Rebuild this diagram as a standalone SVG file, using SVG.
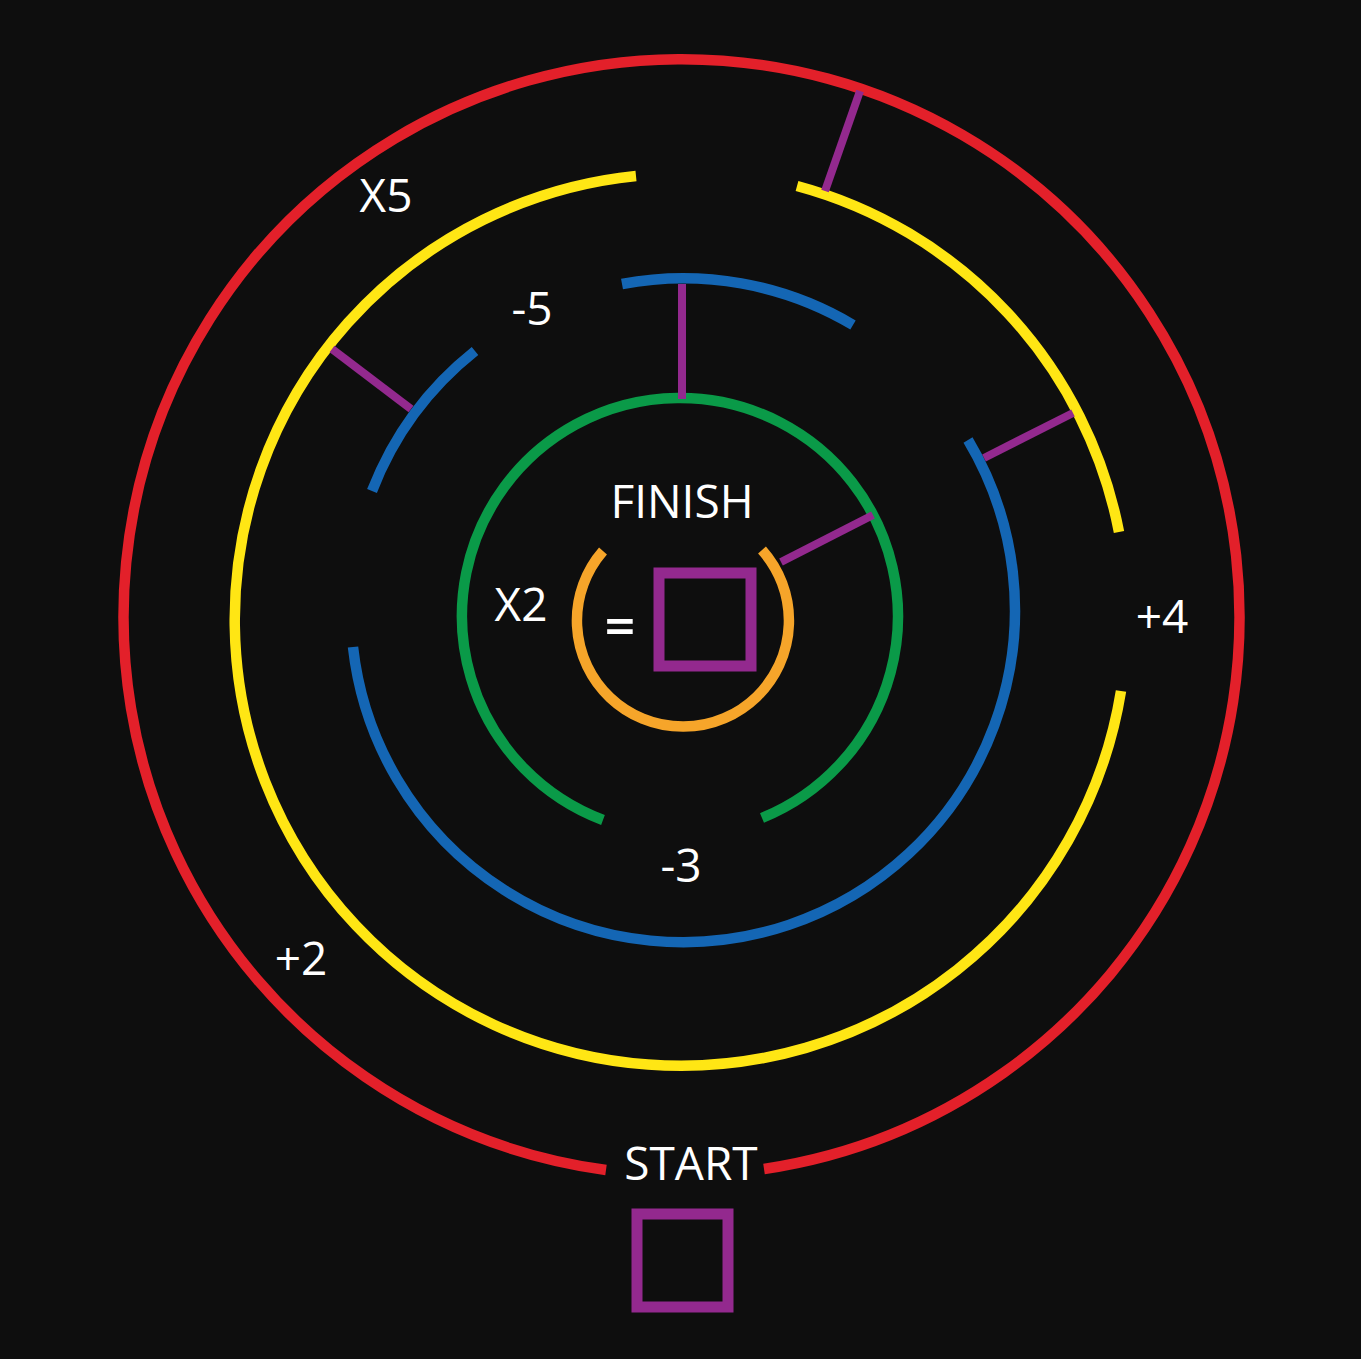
<svg xmlns="http://www.w3.org/2000/svg" width="1361" height="1359" viewBox="0 0 1361 1359">
<style>
.ring{fill:none;stroke-width:10.5;stroke-linecap:butt}
.red{stroke:#e3202a}
.yellow{stroke:#ffe614}
.blue{stroke:#1466b4}
.green{stroke:#0a9a48}
.orange{stroke:#f6a52a}
.wall{fill:none;stroke:#93298e;stroke-width:8;stroke-linecap:butt}
.box{fill:none;stroke:#93298e;stroke-width:11}
.lbl{fill:#ffffff;font-family:"Open Sans","Noto Sans","Liberation Sans",sans-serif;font-size:46px;text-anchor:middle}
.eq{font-size:54px;font-weight:600}
</style>
<rect x="0" y="0" width="1361" height="1359" fill="#0e0e0e"/>
<g id="rings">
  <g id="red-ring"><path class="ring red" d="M 606 1170 A 558 558 0 1 1 764 1169"/></g>
  <g id="yellow-ring">
    <path class="ring yellow" d="M 797 186 A 446 446 0 0 1 1119 532"/>
    <path class="ring yellow" d="M 1121 691 A 446 446 0 1 1 636 176"/>
  </g>
  <g id="blue-ring">
    <path class="ring blue" d="M 622 284 A 332 332 0 0 1 853 325"/>
    <path class="ring blue" d="M 475 351 A 332 332 0 0 0 372 491"/>
    <path class="ring blue" d="M 968 440 A 332 332 0 1 1 353 647"/>
  </g>
  <g id="green-ring"><path class="ring green" d="M 603 820 A 218 218 0 1 1 762 818"/></g>
  <g id="orange-ring"><path class="ring orange" d="M 762 550 A 106 106 0 1 1 603 551"/></g>
</g>
<g id="connectors">
  <line class="wall" x1="860" y1="91" x2="825" y2="191"/>
  <line class="wall" x1="682" y1="284" x2="682" y2="399"/>
  <line class="wall" x1="332" y1="349" x2="411" y2="409"/>
  <line class="wall" x1="1073" y1="413" x2="984" y2="458"/>
  <line class="wall" x1="873" y1="515" x2="781" y2="562"/>
</g>
<g id="finish-box"><rect class="box" x="659" y="573" width="92" height="93"/></g>
<g id="start-box"><rect class="box" x="637" y="1214" width="91" height="93"/></g>
<g id="labels">
  <text class="lbl" x="682" y="518">FINISH</text>
  <text class="lbl" x="691" y="1180">START</text>
  <text class="lbl" x="386" y="212">X5</text>
  <text class="lbl" x="532" y="325">-5</text>
  <text class="lbl" x="521" y="621">X2</text>
  <text class="lbl eq" x="620" y="646">=</text>
  <text class="lbl" x="1162" y="633">+4</text>
  <text class="lbl" x="681" y="882">-3</text>
  <text class="lbl" x="301" y="975">+2</text>
</g>
</svg>
